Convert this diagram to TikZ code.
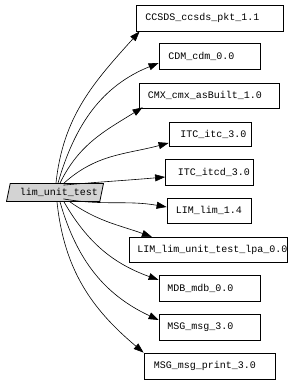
\documentclass[tikz,border=0pt]{standalone}
\usepackage{fontspec}
\setmonofont{Liberation Mono}
\usetikzlibrary{shapes.geometric,arrows.meta}
\newcommand\offtxt[2]{\makebox[0pt]{\hspace*{#1}\hspace*{#1}#2}}
\begin{document}
\begin{tikzpicture}[x=1pt,y=-1pt,
  box/.style={draw,line width=0.8pt,inner sep=0pt,font=\ttfamily\fontsize{10}{12}\selectfont,minimum height=26pt},
  edge/.style={line width=0.6pt,-{Triangle[length=10pt,width=7pt]}}]
\useasboundingbox (0,0) rectangle (296,382);
\node[draw,line width=0.8pt,fill={rgb,255:red,211;green,211;blue,211},trapezium,trapezium left angle=66,trapezium right angle=114,trapezium stretches body,minimum width=97pt,minimum height=18pt,inner sep=0pt,font=\ttfamily\fontsize{10}{12}\selectfont] (lim) at (55,192.5) {\offtxt{4pt}{lim\_unit\_test}};
\node[box,minimum width=147pt] (ccsds) at (209.5,18) {\offtxt{-7pt}{CCSDS\_ccsds\_pkt\_1.1}};
\node[box,minimum width=101pt] (cdm) at (209.5,56) {\offtxt{-8pt}{CDM\_cdm\_0.0}};
\node[box,minimum width=140pt,minimum height=25pt] (cmx) at (209,95.5) {\offtxt{-4pt}{CMX\_cmx\_asBuilt\_1.0}};
\node[box,minimum width=82pt,minimum height=24pt] (itc) at (210,134) {\offtxt{3.5pt}{ITC\_itc\_3.0}};
\node[box,minimum width=88pt] (itcd) at (209.5,172) {\offtxt{4.5pt}{ITC\_itcd\_3.0}};
\node[box,minimum width=84pt,minimum height=25pt] (lim14) at (209,210.5) {\offtxt{0pt}{LIM\_lim\_1.4}};
\node[box,minimum width=158pt,minimum height=25pt] (lpa) at (208.3,249.8) {\offtxt{4pt}{LIM\_lim\_unit\_test\_lpa\_0.0}};
\node[box,minimum width=101pt] (mdb) at (209.5,288) {\offtxt{-9pt}{MDB\_mdb\_0.0}};
\node[box,minimum width=101pt] (msg) at (209.5,327) {\offtxt{-9pt}{MSG\_msg\_3.0}};
\node[box,minimum width=131pt] (msgp) at (209.5,366) {\offtxt{-4.5pt}{MSG\_msg\_print\_3.0}};
\draw[edge] ([xshift=1pt]lim.north) to[out=84,in=228] ([xshift=4pt]ccsds.south west);
\draw[edge] ([xshift=3pt]lim.north) to[out=74,in=202] ([yshift=-7pt]cdm.west);
\draw[edge] ([xshift=5pt]lim.north) to[out=64,in=212] ([xshift=4pt,yshift=1pt]cmx.south west);
\draw[edge] ([xshift=9pt]lim.north) to[out=42,in=195] ([yshift=-9pt]itc.west);
\draw[edge] ([xshift=-1pt,yshift=-2pt]lim.north east) to[out=5,in=185] ([yshift=-5pt]itcd.west);
\draw[edge] ([xshift=-1pt,yshift=3pt]lim.south east) to[out=-10,in=170] ([yshift=3.5pt]lim14.west);
\draw[edge] ([xshift=15pt]lim.south) to[out=-35,in=160] ([xshift=23pt]lpa.north west);
\draw[edge] ([xshift=9pt]lim.south) to[out=-60,in=160] ([yshift=8pt]mdb.west);
\draw[edge] ([xshift=5pt]lim.south) to[out=-74,in=155] ([yshift=7pt]msg.west);
\draw[edge] ([xshift=2pt]lim.south) to[out=-84,in=140] (msgp.north west);
\end{tikzpicture}
\end{document}
